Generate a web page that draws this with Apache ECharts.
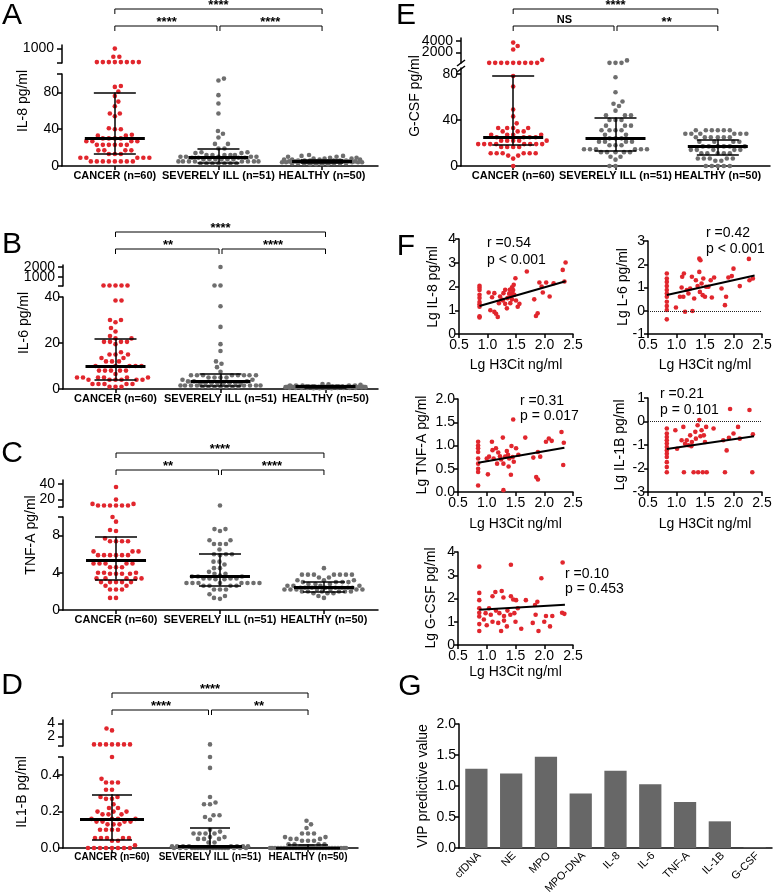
<!DOCTYPE html>
<html><head><meta charset="utf-8">
<script src="https://cdn.jsdelivr.net/npm/echarts@6/dist/echarts.min.js"></script>
<style>html,body{margin:0;padding:0;background:#fff}#c{width:775px;height:893px}</style>
</head><body><div id="c"></div>
<script>
// ---------------- DATA ----------------
const groupLabels = ['CANCER (n=60)', 'SEVERELY ILL (n=51)', 'HEALTHY (n=50)'];

// A: IL-8 pg/ml
const il8Cancer = [1000,910,910,850,850,850,850,850,850,850,850,87,86,81,76,70,65,57,57,54,41,40,40,34,33,33,30,30,30,30,27,27,27,27,23,23,23,23,23,23,17,17,17,17,13,13,13,9,9,9,9,9,5,5,5,5,5,5,5,5];
const il8Severe = [95,93,77,68,57,38,35,31,24,24,19,19,15,15,14,14,12,12,12,12,12,10,10,10,10,10,9,9,9,9,7,7,7,7,7,7,5,5,5,5,5,5,5,5,3,3,3,3,3,3,3];
const il8Healthy = [12,11,11,10,10,9,9,8,8,8,7,7,7,7,6,6,6,6,6,6,5,5,5,5,5,5,5,5,5,5,4,4,4,4,4,4,4,4,4,4,3,3,3,3,3,3,2,2,2,2];
const il8Median = [30, 9, 5];
const il8Q1 = [13, 4, 3.5];
const il8Q3 = [80, 19, 6.5];
const il8TopTicks = [1000];
const il8Ticks = [0, 40, 80];
const il8Sig = ['****', '****', '****'];

// B: IL-6 pg/ml
const il6Cancer = [150,150,150,150,150,38.5,38.5,30,29,30,26.5,25,23,22,22,20.5,20.5,20.5,20.5,19.5,16,15,15,15,13.5,13.5,12,12,12,10,10,10,10,10,8,8,8,8,8,6.5,5,5,5,5,5,5,4,4,4,4,4,4,2.2,2.2,2.2,2.2,2.2,1,1,1];
const il6Severe = [2000,150,150,36,27,19.5,16.5,12,11,9.5,7.5,6,6,6,6,6,6,6,6,5,5,5,5,4,4,3.3,3.3,3.3,2.5,2.5,2.5,2.5,2.5,2.5,2.5,2.5,1.5,1.5,1.5,1.5,1.5,1.5,1.5,1.5,1,1,1,1,1,1,1];
const il6Healthy = [2.2,2,1.8,1.5,1.5,1.5,1.5,1.5,1.2,1.2,1.2,1.2,1.2,1.2,1.2,1.2,1,1,1,1,1,1,1,1,1,1,1,1,0.8,0.8,0.8,0.8,0.8,0.8,0.8,0.8,0.8,0.8,0.5,0.5,0.5,0.5,0.5,0.5,0.5,0.5,0.3,0.3,0.3,0.3];
const il6Median = [10, 3.3, 1.0];
const il6Q1 = [4, 1.3, 0.6];
const il6Q3 = [22, 6.5, 1.3];
const il6TopTicks = [1000, 2000];
const il6Ticks = [0, 20, 40];
const il6Sig = ['****', '**', '****'];

// C: TNF-A pg/ml
const tnfCancer = [36,19.6,14,14,12,12,12,12,12,12,10,9.5,8.6,8.5,7.7,7.4,7.4,7.4,7.4,6.3,6.3,6.3,5.9,5.9,5.9,5.9,5.9,5.9,5,5,5,5,5,4.6,4.6,4.6,4,4,4,3.9,3.9,3.9,3.9,3.4,3.4,3.4,3.4,3.4,3,3,3,3,3,2.6,2.6,2.2,2.2,2.2,1.3,1.3];
const tnfSevere = [12,8.7,8.7,8.5,7.5,7.5,7.1,7.1,7.1,6.5,6.0,6.0,6.0,5.9,5.2,5.2,4.9,4.5,4.5,4.1,3.9,3.9,3.7,3.6,3.6,3.6,3.4,3.4,3.4,3.4,3.3,3.3,2.9,2.9,2.9,2.9,2.9,2.9,2.9,2.9,2.6,2.6,2.6,2.6,2.2,2.2,2.2,1.7,1.5,1.3,1.2];
const tnfHealthy = [4.5,3.8,3.8,3.8,3.8,3.8,3.8,3.8,3.5,3.5,3.2,3.2,3.2,3,3,3,3,2.8,2.8,2.8,2.6,2.6,2.6,2.6,2.4,2.4,2.4,2.4,2.4,2.4,2.4,2.4,2.2,2.2,2.2,2.2,2.2,2.2,2.2,2,2,2,2,2,2,1.8,1.8,1.8,1.5,1.3];
const tnfMedian = [5.4, 3.6, 2.4];
const tnfQ1 = [3.3, 2.6, 2.0];
const tnfQ3 = [7.9, 6.0, 3.0];
const tnfTopTicks = [20, 40];
const tnfTicks = [0, 4, 8];
const tnfSig = ['****', '**', '****'];

// D: IL1-B pg/ml
const il1bCancer = [3.2,2.9,0.75,0.75,0.75,0.75,0.75,0.75,0.75,0.5,0.38,0.36,0.36,0.36,0.32,0.32,0.28,0.28,0.27,0.27,0.24,0.22,0.22,0.2,0.2,0.2,0.185,0.185,0.185,0.16,0.16,0.16,0.16,0.145,0.145,0.145,0.145,0.13,0.13,0.13,0.1,0.1,0.1,0.1,0.055,0.055,0.055,0.055,0.055,0.04,0.04,0.015,0,0,0,0,0,0,0,0];
const il1bSevere = [0.75,0.5,0.44,0.28,0.25,0.24,0.24,0.18,0.18,0.17,0.155,0.1,0.09,0.08,0.08,0.08,0.08,0.06,0.06,0.05,0.05,0.05,0.03,0.03,0.01,0.01,0.01,0.01,0.01,0.01,0.01,0.01,0,0,0,0,0,0,0,0,0,0,0,0,0,0,0,0,0,0,0];
const il1bHealthy = [0.15,0.13,0.11,0.08,0.08,0.08,0.06,0.06,0.05,0.05,0.05,0.04,0.04,0.04,0.02,0.02,0.02,0.02,0.01,0.01,0.01,0.01,0.01,0,0,0,0,0,0,0,0,0,0,0,0,0,0,0,0,0,0,0,0,0,0,0,0,0,0,0];
const il1bMedian = [0.16, 0.01, 0.0];
const il1bQ1 = [0.045, 0.0, 0.0];
const il1bQ3 = [0.295, 0.11, 0.02];
const il1bTopTicks = [2, 4];
const il1bTicks = [0, 0.2, 0.4];
const il1bSig = ['****', '****', '**'];

// E: G-CSF pg/ml
const gcsfCancer = [3700,3100,2500,700,180,180,180,180,180,180,180,180,180,78,69,49,43,37,33,33,33,33,30,30,30,27,27,27,27,25,25,25,25,22,22,22,22,22,19,19,19,19,19,19,19,19,16.5,16.5,16.5,16.5,11,11,11,11,11,11,9,9,6.4,0];
const gcsfSevere = [600,180,180,180,77,64,56,54,52,48,44,44,44,40,40,40,35,35,35,31,31,31,31,27,27,24,24,24,21,21,21,21,18,18,18,14.5,14.5,14.5,14.5,14.5,14.5,12,12,12,12,12,8,8,5.5,0,0];
const gcsfHealthy = [31,31,31,31,31,31,28,28,28,28,28,28,25,25,25,25,25,25,21,21,21,21,17,17,17,17,17,17,14,14,14,14,14,11,11,11,11,11,6.5,6.5,6.5,6.5,6.5,4.5,4.5,0,0,0,0,0];
const gcsfMedian = [25, 24, 17.5];
const gcsfQ1 = [18, 13, 10];
const gcsfQ3 = [78, 42, 23];
const gcsfTopTicks = [2000, 4000];
const gcsfTicks = [0, 40, 80];
const gcsfSig = ['****', 'NS', '**'];

// F: correlations with Lg H3Cit
const f1Points = [[0.86,2.03],[0.86,1.95],[0.86,1.85],[0.86,1.65],[0.86,1.52],[0.86,1.35],[0.86,1.25],[0.86,1.15],[0.86,0.75],[0.86,0.70],[1.02,1.75],[1.05,1.00],[1.12,0.93],[1.15,0.85],[1.18,0.72],[1.12,1.72],[1.22,1.58],[1.27,1.41],[1.31,1.27],[1.28,1.72],[1.35,1.51],[1.39,1.86],[1.41,1.60],[1.43,1.97],[1.46,2.07],[1.47,1.65],[1.49,2.35],[1.50,1.41],[1.53,1.15],[1.56,1.27],[1.34,1.08],[1.40,1.30],[1.43,1.46],[1.44,1.72],[1.31,1.86],[1.69,2.63],[1.82,1.46],[1.85,0.76],[1.88,0.87],[1.91,2.17],[1.95,2.00],[1.97,1.75],[2.03,2.17],[2.09,1.58],[2.16,2.14],[2.32,2.70],[2.37,3.01],[2.35,2.21],[1.25,1.45],[1.38,1.70],[1.45,1.85],[1.08,1.55],[1.20,1.30]];
const f1FitX = [0.86, 2.37], f1FitY = [1.18, 2.22];
const f1Stats = ['r =0.54', 'p < 0.001'];

const f2Points = [[0.83,1.60],[0.83,1.39],[0.83,1.24],[0.83,1.06],[0.83,0.89],[0.83,0.74],[0.83,0.60],[0.83,0.39],[0.83,0.20],[0.83,0.03],[0.83,-0.37],[0.99,0.14],[1.09,1.00],[1.10,1.46],[1.13,1.60],[1.06,0.60],[1.15,-0.04],[1.21,0.74],[1.24,0.96],[1.27,1.46],[1.28,-0.01],[1.31,0.53],[1.34,1.31],[1.37,1.06],[1.40,1.67],[1.41,0.81],[1.44,1.17],[1.46,0.67],[1.40,2.24],[1.42,2.17],[1.50,0.60],[1.47,1.39],[1.52,1.03],[1.56,1.03],[1.66,1.43],[1.62,0.57],[1.79,0.96],[1.85,0.24],[1.87,0.60],[1.91,1.43],[2.00,1.81],[1.97,1.49],[2.11,1.06],[2.27,2.23],[2.28,1.31],[2.34,1.39],[1.60,1.31],[1.12,0.60],[1.18,0.89]];
const f2FitX = [0.83, 2.37], f2FitY = [0.68, 1.52];
const f2Stats = ['r =0.42', 'p < 0.001'];

const f3Points = [[0.85,1.08],[0.85,1.00],[0.85,0.94],[0.85,0.86],[0.85,0.72],[0.85,0.61],[0.85,0.50],[0.85,0.43],[0.85,0.14],[1.02,0.38],[1.04,0.76],[1.09,1.08],[1.12,0.72],[1.16,0.94],[1.18,0.61],[1.28,1.17],[1.29,0.61],[1.32,0.76],[1.35,0.88],[1.38,0.55],[1.39,0.72],[1.42,0.37],[1.43,0.99],[1.46,1.56],[1.47,0.65],[1.51,0.94],[1.23,0.77],[1.29,0.04],[1.67,1.17],[1.81,0.74],[1.86,0.32],[1.89,0.27],[1.89,0.86],[1.93,0.76],[2.03,1.08],[2.08,1.15],[2.13,1.10],[2.30,1.29],[2.34,1.06],[2.33,0.58],[1.20,0.85],[1.25,0.70],[1.37,0.80],[1.45,0.75],[1.55,0.80],[1.10,0.90],[1.00,0.72]];
const f3FitX = [0.85, 2.35], f3FitY = [0.63, 0.95];
const f3Stats = ['r =0.31', 'p = 0.017'];

const f4Points = [[0.83,-0.30],[0.83,-0.51],[0.83,-0.66],[0.83,-0.80],[0.83,-0.94],[0.83,-1.09],[0.83,-1.23],[0.83,-1.37],[0.83,-1.51],[0.83,-1.73],[0.83,-1.94],[0.83,-2.16],[0.98,-0.37],[1.01,-1.16],[1.12,-0.23],[1.13,-2.16],[1.18,-0.80],[1.21,-1.01],[1.24,-0.59],[1.27,-0.87],[1.30,-2.16],[1.33,-0.44],[1.34,-0.73],[1.37,-0.16],[1.38,-2.16],[1.40,0.06],[1.42,-0.63],[1.44,-0.37],[1.46,-2.16],[1.48,-0.59],[1.50,-0.87],[1.53,-2.16],[1.52,-0.23],[1.65,-0.30],[1.82,-0.80],[1.85,-2.16],[1.88,-1.23],[1.92,-0.69],[2.00,-0.51],[2.08,-0.23],[1.94,0.53],[2.11,-0.73],[2.28,0.49],[2.34,-0.54],[2.33,-2.16],[1.09,-0.80],[1.15,-0.95],[1.26,-1.05]];
const f4FitX = [0.83, 2.36], f4FitY = [-1.17, -0.63];
const f4Stats = ['r =0.21', 'p = 0.101'];

const f5Points = [[0.87,3.37],[1.42,3.45],[2.32,3.55],[1.95,2.87],[0.87,2.24],[0.87,1.93],[0.87,1.58],[0.87,1.39],[0.87,1.23],[1.10,2.10],[1.15,2.28],[1.26,2.32],[1.29,2.04],[1.42,2.10],[1.46,1.96],[1.51,1.93],[0.98,1.37],[1.04,1.58],[1.07,1.30],[1.16,1.48],[1.22,1.37],[1.30,1.25],[1.36,1.48],[1.41,1.30],[1.48,1.37],[1.54,1.58],[1.68,1.93],[1.84,1.72],[1.88,1.86],[1.85,1.30],[2.03,1.25],[2.14,1.25],[2.31,1.39],[2.35,1.34],[0.87,0.90],[0.87,0.60],[1.00,0.85],[1.10,1.00],[1.20,0.95],[1.30,1.05],[1.35,0.80],[1.50,1.00],[1.60,0.70],[1.80,0.95],[1.90,0.60],[2.00,1.00],[2.10,0.80],[1.25,0.60],[0.95,1.10]];
const f5FitX = [0.87, 2.36], f5FitY = [1.52, 1.73];
const f5Stats = ['r =0.10', 'p = 0.453'];

// G: VIP
const vipLabels = ['cfDNA','NE','MPO','MPO-DNA','IL-8','IL-6','TNF-A','IL-1B','G-CSF'];
const vipValues = [1.28, 1.20, 1.47, 0.88, 1.245, 1.03, 0.74, 0.43, 0.01];

// ---------------- BUILD ----------------
const FONT = '"Liberation Sans", Arial, Helvetica, sans-serif';
const RED = '#e1262d', GRAY = '#6e6e6e';
const AX = {color:'#000', width:1.5};
const plain = v => String(v);
const grid = [], xAxis = [], yAxis = [], series = [], graphic = [];
const lateLabels = []; // axis labels placed after layout via convertToPixel

function addGrid(r){ grid.push({left:r[0], top:r[1], width:r[2], height:r[3], containLabel:false, outerBoundsMode:'none'}); return grid.length-1; }
function txt(x, y, s, o){ o=o||{}; graphic.push({type:'text', x:x, y:y, rotation:o.rot||0, silent:true, z:100,
  style:{text:s, fill:'#000', fontSize:o.size||14, fontFamily:FONT, fontWeight:o.w||'normal', align:o.align||'center', verticalAlign:o.va||'middle'}}); }
function pline(pts, w){ graphic.push({type:'polyline', silent:true, z:100, shape:{points:pts}, style:{stroke:'#000', lineWidth:w||1, fill:null}}); }

function swarm(vals, pyOf, d, maxW){
  const order = vals.map((v,i)=>i).sort((a,b)=>vals[a]-vals[b]);
  const placed = [], out = new Array(vals.length).fill(0);
  const cands = [0]; for (let s=0.5; s<=maxW; s+=0.5) cands.push(s, -s);
  let flip = 1;
  for (const i of order){
    const py = pyOf(vals[i]);
    const near = placed.filter(p=>Math.abs(p.y-py) < d);
    let chosen = null, bestX = 0, bestD = -1;
    for (const c0 of cands){
      const c = c0*flip; let md = Infinity;
      for (const p of near){ const dd = Math.hypot(c-p.x, py-p.y); if (dd < md) md = dd; }
      if (md >= d){ chosen = c; break; }
      if (md > bestD + 1e-9){ bestD = md; bestX = c; }
    }
    if (chosen === null) chosen = bestX;
    flip = -flip;
    placed.push({x:chosen, y:py}); out[i] = chosen;
  }
  return out;
}

function dotPanel(D, L){
  const gt = addGrid(L.top.rect), gb = addGrid(L.bot.rect);
  xAxis.push({gridIndex:gt, type:'value', min:L.xr[0], max:L.xr[1], show:false});
  xAxis.push({gridIndex:gb, type:'value', min:L.xr[0], max:L.xr[1],
    axisLine:{show:true, onZero:false, lineStyle:AX},
    axisTick:{show:true, length:4, customValues:[1,2,3], lineStyle:AX},
    axisLabel:{show:true, customValues:[1,2,3], hideOverlap:false, formatter:v=>groupLabels[Math.round(v)-1], fontSize:L.catFont, fontWeight:'bold', color:'#000', margin:4, fontFamily:FONT},
    splitLine:{show:false}});
  const fmt = L.fmt || plain;
  // top segment: ticks by the axis, labels placed after layout (they sit close together)
  yAxis.push({gridIndex:gt, type:'value', min:L.top.min, max:L.top.max,
    axisLine:{show:true, onZero:false, lineStyle:AX},
    axisTick:{show:true, length:5, customValues:D.topTicks.concat(L.top.ends), lineStyle:AX},
    axisLabel:{show:false},
    splitLine:{show:false}});
  D.topTicks.forEach(v => lateLabels.push({idx:gt, val:[L.xr[0], v], text:plain(v), dx:-8, dy:0, align:'right', size:14, rot:0}));
  yAxis.push({gridIndex:gb, type:'value', min:L.bot.min, max:L.bot.max,
    axisLine:{show:true, onZero:false, lineStyle:AX},
    axisTick:{show:true, length:5, customValues:D.ticks.concat(L.bot.ends), lineStyle:AX},
    axisLabel:{show:true, customValues:D.ticks, hideOverlap:false, fontSize:14, color:'#000', margin:3, fontFamily:FONT, formatter:fmt},
    splitLine:{show:false}});
  const ppu = L.bot.rect[2]/(L.xr[1]-L.xr[0]);
  function pyOf(v){
    if (v > L.bot.max){ const r=L.top.rect; return r[1] + r[3]*(L.top.max-v)/(L.top.max-L.top.min); }
    const r=L.bot.rect; return r[1] + r[3]*(L.bot.max-v)/(L.bot.max-L.bot.min);
  }
  const colors = [RED, GRAY, GRAY];
  D.groups.forEach((vals, g)=>{
    const offs = swarm(vals, pyOf, 5.6, L.maxW);
    const top = [], bot = [];
    vals.forEach((v,i)=>{ const pt = [g+1+offs[i]/ppu, v]; (v > L.bot.max ? top : bot).push(pt); });
    const base = {type:'scatter', symbol:'circle', symbolSize:4.6, itemStyle:{color:colors[g], opacity:1}, silent:true, clip:false, z:2};
    series.push(Object.assign({}, base, {xAxisIndex:gt, yAxisIndex:gt, data:top}));
    series.push(Object.assign({}, base, {xAxisIndex:gb, yAxisIndex:gb, data:bot}));
  });
  const mh = L.medHalf/ppu, ch = L.capHalf/ppu;
  const iqr = [], med = [];
  D.med.forEach((m,g)=>{
    const c = g+1, q1 = D.q1[g], q3 = D.q3[g];
    med.push({coords:[[c-mh, m],[c+mh, m]]});
    iqr.push({coords:[[c, q1],[c, q3]]}, {coords:[[c-ch, q1],[c+ch, q1]]}, {coords:[[c-ch, q3],[c+ch, q3]]});
  });
  series.push({type:'lines', coordinateSystem:'cartesian2d', xAxisIndex:gb, yAxisIndex:gb, data:iqr, silent:true, z:5, lineStyle:{color:'#000', width:1.5, opacity:1, curveness:0}});
  series.push({type:'lines', coordinateSystem:'cartesian2d', xAxisIndex:gb, yAxisIndex:gb, data:med, silent:true, z:6, lineStyle:{color:'#000', width:3, opacity:1, curveness:0}});
  // significance brackets
  const cx = c => L.bot.rect[0] + (c - L.xr[0])*ppu;
  const yT = L.brk[0], yL = L.brk[1];
  pline([[cx(1), yT+5],[cx(1), yT],[cx(3), yT],[cx(3), yT+5]]);
  pline([[cx(1), yL+5],[cx(1), yL],[cx(2)-1.5, yL],[cx(2)-1.5, yL+5]]);
  pline([[cx(2)+1.5, yL+5],[cx(2)+1.5, yL],[cx(3), yL],[cx(3), yL+5]]);
  const sig = (s, x, y) => { if (s === 'NS') txt(x, y-6.5, s, {size:11, w:'bold'}); else txt(x, y-3.5, s, {size:13, w:'bold'}); };
  sig(D.sig[0], (cx(1)+cx(3))/2, yT);
  sig(D.sig[1], (cx(1)+cx(2))/2, yL);
  sig(D.sig[2], (cx(2)+cx(3))/2, yL);
  txt(L.letter[1], L.letter[2], L.letter[0], {size:30});
  txt(L.name[1], L.name[2], L.name[0], {rot:Math.PI/2});
}

dotPanel({groups:[il8Cancer, il8Severe, il8Healthy], med:il8Median, q1:il8Q1, q3:il8Q3, topTicks:il8TopTicks, ticks:il8Ticks, sig:il8Sig},
  {letter:['A',12,16], name:['IL-8 pg/ml',23,101], xr:[0.49,3.54], catFont:11, maxW:40, medHalf:30, capHalf:21,
   top:{rect:[62,45,316,18], min:840, max:1040, ends:[840]}, bot:{rect:[62,74,316,92], min:0, max:100, ends:[100]}, brk:[9,26]});
dotPanel({groups:[il6Cancer, il6Severe, il6Healthy], med:il6Median, q1:il6Q1, q3:il6Q3, topTicks:il6TopTicks, ticks:il6Ticks, sig:il6Sig},
  {letter:['B',12,245], name:['IL-6 pg/ml',24,323], xr:[0.5,3.5], catFont:11, maxW:40, medHalf:30, capHalf:21,
   top:{rect:[63,265,315,21], min:100, max:2200, ends:[100]}, bot:{rect:[63,297,315,92], min:0, max:40, ends:[]}, brk:[232,249]});
dotPanel({groups:[tnfCancer, tnfSevere, tnfHealthy], med:tnfMedian, q1:tnfQ1, q3:tnfQ3, topTicks:tnfTopTicks, ticks:tnfTicks, sig:tnfSig},
  {letter:['C',12,454], name:['TNF-A pg/ml',31,535], xr:[0.49,3.52], catFont:11, maxW:40, medHalf:30, capHalf:21,
   top:{rect:[63,480,315,27], min:10, max:45, ends:[10]}, bot:{rect:[63,517,315,93], min:0, max:10, ends:[10]}, brk:[453,470]});
dotPanel({groups:[il1bCancer, il1bSevere, il1bHealthy], med:il1bMedian, q1:il1bQ1, q3:il1bQ3, topTicks:il1bTopTicks, ticks:il1bTicks, sig:il1bSig},
  {letter:['D',12,686], name:['IL1-B pg/ml',22,792], xr:[0.5,3.51], catFont:10, maxW:38, medHalf:32, capHalf:20, fmt:v=>v.toFixed(1),
   top:{rect:[63,720,295,26], min:0.5, max:4.5, ends:[0.5]}, bot:{rect:[63,757,295,91], min:0, max:0.5, ends:[0.5]}, brk:[693,710]});
dotPanel({groups:[gcsfCancer, gcsfSevere, gcsfHealthy], med:gcsfMedian, q1:gcsfQ1, q3:gcsfQ3, topTicks:gcsfTopTicks, ticks:gcsfTicks, sig:gcsfSig},
  {letter:['E',406,16], name:['G-CSF pg/ml',415,96], xr:[0.49,3.51], catFont:11, maxW:40, medHalf:30, capHalf:21,
   top:{rect:[461,38,309,25], min:150, max:4500, ends:[]}, bot:{rect:[461,68,309,98], min:0, max:85, ends:[]}, brk:[9,26]});
// axis break marks on E
graphic.push({type:'line', silent:true, z:100, shape:{x1:457, y1:66, x2:465, y2:60}, style:{stroke:'#000', lineWidth:1.5}});
graphic.push({type:'line', silent:true, z:100, shape:{x1:457, y1:72, x2:465, y2:66}, style:{stroke:'#000', lineWidth:1.5}});

function scatterPanel(pts, fx, fy, stats, L){
  const gi = addGrid(L.rect);
  xAxis.push({gridIndex:gi, type:'value', min:0.5, max:2.5, interval:0.5,
    axisLine:{show:true, onZero:false, lineStyle:AX}, axisTick:{show:true, length:4, lineStyle:AX},
    axisLabel:{formatter:v=>v.toFixed(1), hideOverlap:false, fontSize:14, color:'#000', margin:4, fontFamily:FONT}, splitLine:{show:false}});
  yAxis.push({gridIndex:gi, type:'value', min:L.y[0], max:L.y[1], interval:L.y[2],
    axisLine:{show:true, onZero:false, lineStyle:AX}, axisTick:{show:true, length:4, lineStyle:AX},
    axisLabel:{formatter:L.yfmt || plain, hideOverlap:false, fontSize:14, color:'#000', margin:3, fontFamily:FONT}, splitLine:{show:false}});
  const sc = {type:'scatter', xAxisIndex:gi, yAxisIndex:gi, data:pts, symbolSize:4.6, itemStyle:{color:RED, opacity:1}, silent:true, clip:false, z:2};
  if (L.zero) sc.markLine = {silent:true, symbol:'none', label:{show:false}, data:[{yAxis:0}], lineStyle:{type:'dotted', color:'#222', width:1}, animation:false};
  series.push(sc);
  series.push({type:'line', xAxisIndex:gi, yAxisIndex:gi, data:fx.map((x,i)=>[x, fy[i]]), symbol:'none', silent:true, z:4, lineStyle:{color:'#000', width:2}});
  txt(L.st[0], L.st[1], stats[0], {align:'left'});
  txt(L.st[0], L.st[2], stats[1], {align:'left'});
  txt(L.yname[1], L.yname[2], L.yname[0], {rot:Math.PI/2});
  txt(L.rect[0] + L.rect[2]/2, L.xnameY, 'Lg H3Cit ng/ml');
}
scatterPanel(f1Points, f1FitX, f1FitY, f1Stats, {rect:[459,239,114,95], y:[0,4,1], st:[487,243,260], yname:['Lg IL-8 pg/ml',433,287], xnameY:365});
scatterPanel(f2Points, f2FitX, f2FitY, f2Stats, {rect:[648,241,114,93], y:[-1,3,1], zero:true, st:[706,233,249], yname:['Lg L-6 pg/ml',623,287], xnameY:365});
scatterPanel(f3Points, f3FitX, f3FitY, f3Stats, {rect:[458,399,115,93], y:[0,2,0.5], yfmt:v=>v.toFixed(1), st:[520,401,416], yname:['Lg TNF-A pg/ml',422,445], xnameY:524});
scatterPanel(f4Points, f4FitX, f4FitY, f4Stats, {rect:[648,398,114,94], y:[-3,1,1], zero:true, st:[660,394,410], yname:['Lg IL-1B pg/ml',620,445], xnameY:524});
scatterPanel(f5Points, f5FitX, f5FitY, f5Stats, {rect:[458,552,115,93], y:[0,4,1], st:[565,574,589], yname:['Lg G-CSF pg/ml',431,598], xnameY:672});
txt(406, 247, 'F', {size:30});

// G
const gg = addGrid([459,724,313,124]);
xAxis.push({gridIndex:gg, type:'category', data:vipLabels, axisLine:{show:true, lineStyle:AX}, axisTick:{show:false},
  axisLabel:{show:false}});
yAxis.push({gridIndex:gg, type:'value', min:0, max:2, interval:0.5, axisLine:{show:true, lineStyle:AX}, axisTick:{show:true, length:4, lineStyle:AX},
  axisLabel:{formatter:v=>v.toFixed(1), fontSize:14, color:'#000', margin:3, fontFamily:FONT}, splitLine:{show:false}});
series.push({type:'bar', xAxisIndex:gg, yAxisIndex:gg, data:vipValues, barWidth:'64%', silent:true, itemStyle:{color:'#676767'}});
vipLabels.forEach((s,i) => lateLabels.push({idx:gg, val:[i, 0], text:s, dx:3, dy:6, align:'right', size:11, rot:Math.PI/4}));
txt(410, 687, 'G', {size:30});
txt(423, 786, 'VIP predictive value', {rot:Math.PI/2});

const chart = echarts.init(document.getElementById('c'));
chart.setOption({backgroundColor:'#fff', animation:false, textStyle:{fontFamily:FONT}, grid, xAxis, yAxis, series, graphic});
// place remaining axis labels through the library's own coordinate conversion
lateLabels.forEach(l => {
  const p = chart.convertToPixel({xAxisIndex:l.idx, yAxisIndex:l.idx}, l.val);
  if (p) txt(p[0] + l.dx, p[1] + l.dy, l.text, {align:l.align, size:l.size, rot:l.rot});
});
chart.setOption({graphic});
</script></body></html>
